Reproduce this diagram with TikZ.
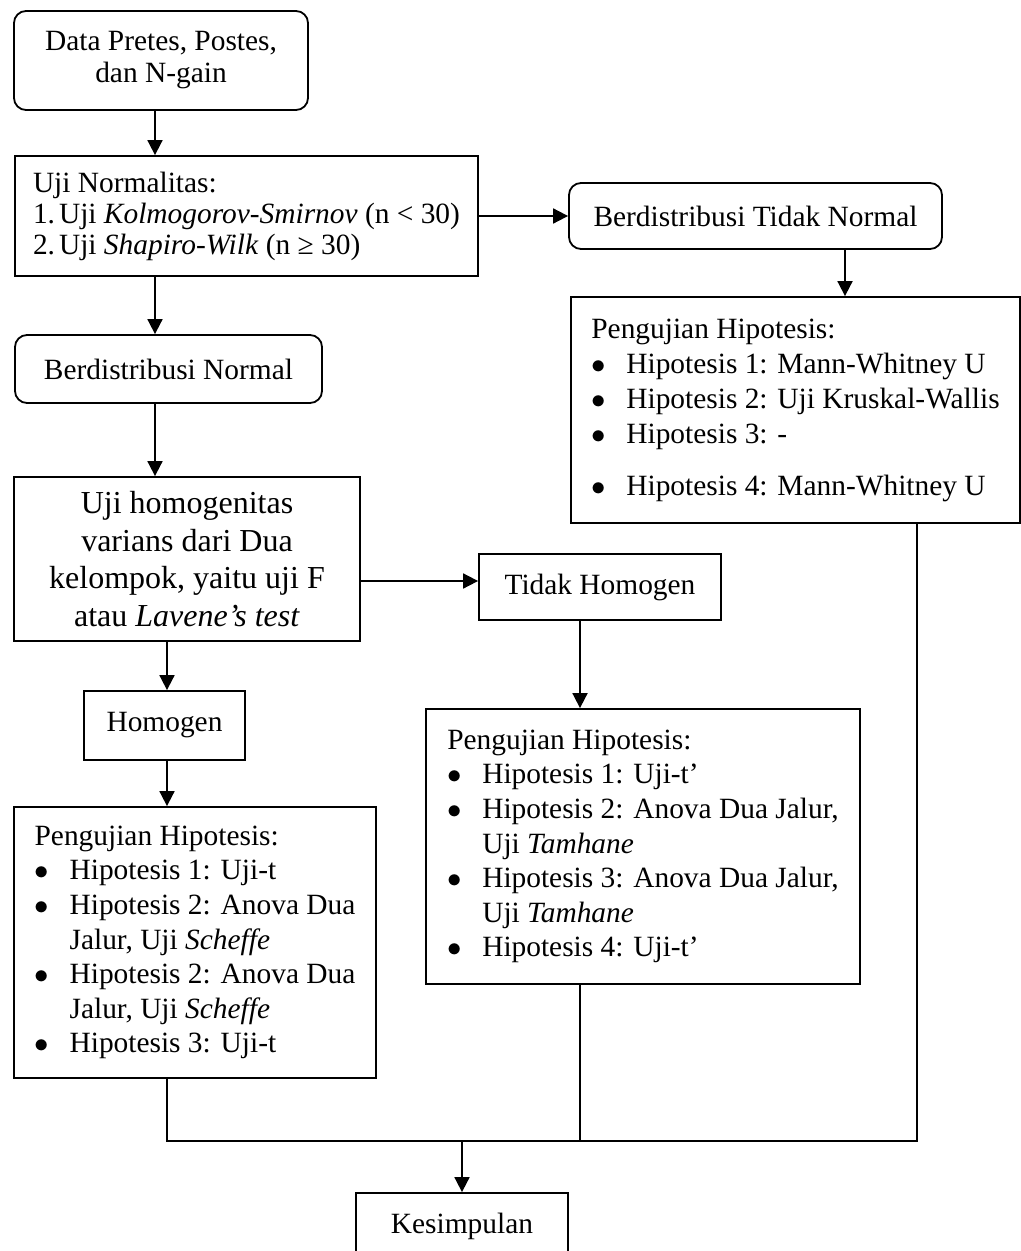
\documentclass[tikz,border=0pt]{standalone}
\usepackage{fontspec}
\setmainfont{Liberation Serif}
\usetikzlibrary{arrows.meta}
\usetikzlibrary{calc}
\newcommand{\bulitem}{\makebox[17.5pt][l]{$\bullet$}}
\newcommand{\contind}{\hspace*{17.5pt}}
\begin{document}
\begin{tikzpicture}[x=0.5pt,y=-0.5pt,
  every node/.style={font=\fontsize{14.7pt}{17.3pt}\selectfont},
  box/.style={draw,line width=0.9pt,rectangle,inner sep=0pt},
  rbox/.style={box,rounded corners=6pt},
  arr/.style={line width=0.9pt,-{Triangle[length=7.5pt,width=7.5pt]}},
  joinline/.style={line width=0.7pt}]
\useasboundingbox (0,0) rectangle (1021,1251);

\draw (161,60.5) node[rbox,align=center,minimum width=147pt,minimum height=49.5pt,
  font=\fontsize{14.7pt}{16pt}\selectfont] (data) {Data Pretes, Postes,\\dan N-gain};
\draw (246.5,216) node[box,align=left,minimum width=231.5pt,minimum height=60pt,
  font=\fontsize{14.7pt}{15.5pt}\selectfont] (normtest)
  {Uji Normalitas:\\1.\hspace{2pt}Uji \textit{Kolmogorov-Smirnov} (n < 30)\\2.\hspace{2pt}Uji \textit{Shapiro-Wilk} (n ≥ 30)};
\draw (755.5,216) node[rbox,minimum width=186.5pt,minimum height=33pt] (notnormal) {Berdistribusi Tidak Normal};
\draw (795.5,410) node[box,align=left,minimum width=224.5pt,minimum height=113pt,
  font=\fontsize{14.7pt}{17.5pt}\selectfont] (hypright)
  {Pengujian Hipotesis:\\
   \bulitem Hipotesis 1: Mann-Whitney U\\
   \bulitem Hipotesis 2: Uji Kruskal-Wallis\\
   \bulitem Hipotesis 3: -\\[8.5pt]
   \bulitem Hipotesis 4: Mann-Whitney U};

\draw (168.5,369) node[rbox,minimum width=153.5pt,minimum height=34pt] (normal) {Berdistribusi Normal};
\draw (187,559) node[box,align=center,minimum width=173pt,minimum height=82pt,
  font=\fontsize{16pt}{18.8pt}\selectfont] (homtest)
  {Uji homogenitas\\varians dari Dua\\kelompok, yaitu uji F\\atau \textit{Lavene’s test}};
\draw (600,587) node[box,minimum width=121pt,minimum height=33pt] (nothom) {Tidak Homogen};
\draw (643,846.5) node[box,align=left,minimum width=217pt,minimum height=137.5pt] (hypmid)
  {Pengujian Hipotesis:\\
   \bulitem Hipotesis 1: Uji-t’\\
   \bulitem Hipotesis 2: Anova Dua Jalur,\\
   \contind Uji \textit{Tamhane}\\
   \bulitem Hipotesis 3: Anova Dua Jalur,\\
   \contind Uji \textit{Tamhane}\\
   \bulitem Hipotesis 4: Uji-t’};
\draw (164.5,725.5) node[box,minimum width=80.5pt,minimum height=34.5pt] (hom) {Homogen};
\draw (195,942.5) node[box,align=left,minimum width=181pt,minimum height=135.5pt] (hypleft)
  {Pengujian Hipotesis:\\
   \bulitem Hipotesis 1: Uji-t\\
   \bulitem Hipotesis 2: Anova Dua\\
   \contind Jalur, Uji \textit{Scheffe}\\
   \bulitem Hipotesis 2: Anova Dua\\
   \contind Jalur, Uji \textit{Scheffe}\\
   \bulitem Hipotesis 3: Uji-t};
\draw (462,1226) node[box,minimum width=106pt,minimum height=33pt] (concl) {Kesimpulan};

% helper positions of the connectors
\coordinate (sx) at (155,0);
\coordinate (rx) at (845,0);
\coordinate (lx) at (167,0);
\coordinate (mx) at (580,0);
\coordinate (ex) at (917,0);
\coordinate (hy) at (0,581);
\coordinate (jy) at (0,1141);

\draw[arr] (sx |- data.south) -- (sx |- normtest.north);
\draw[arr] (normtest.east) -- (notnormal.west);
\draw[arr] (rx |- notnormal.south) -- (rx |- hypright.north);
\draw[arr] (sx |- normtest.south) -- (sx |- normal.north);
\draw[arr] (sx |- normal.south) -- (sx |- homtest.north);
\draw[arr] (homtest.east |- hy) -- (nothom.west |- hy);
\draw[arr] (mx |- nothom.south) -- (mx |- hypmid.north);
\draw[arr] (lx |- homtest.south) -- (lx |- hom.north);
\draw[arr] (lx |- hom.south) -- (lx |- hypleft.north);

\draw[joinline] (lx |- hypleft.south) -- (lx |- jy) -- (ex |- jy) -- (ex |- hypright.south);
\draw[joinline] (mx |- hypmid.south) -- (mx |- jy);
\draw[arr] (concl.north |- jy) -- (concl.north);
\end{tikzpicture}
\end{document}
